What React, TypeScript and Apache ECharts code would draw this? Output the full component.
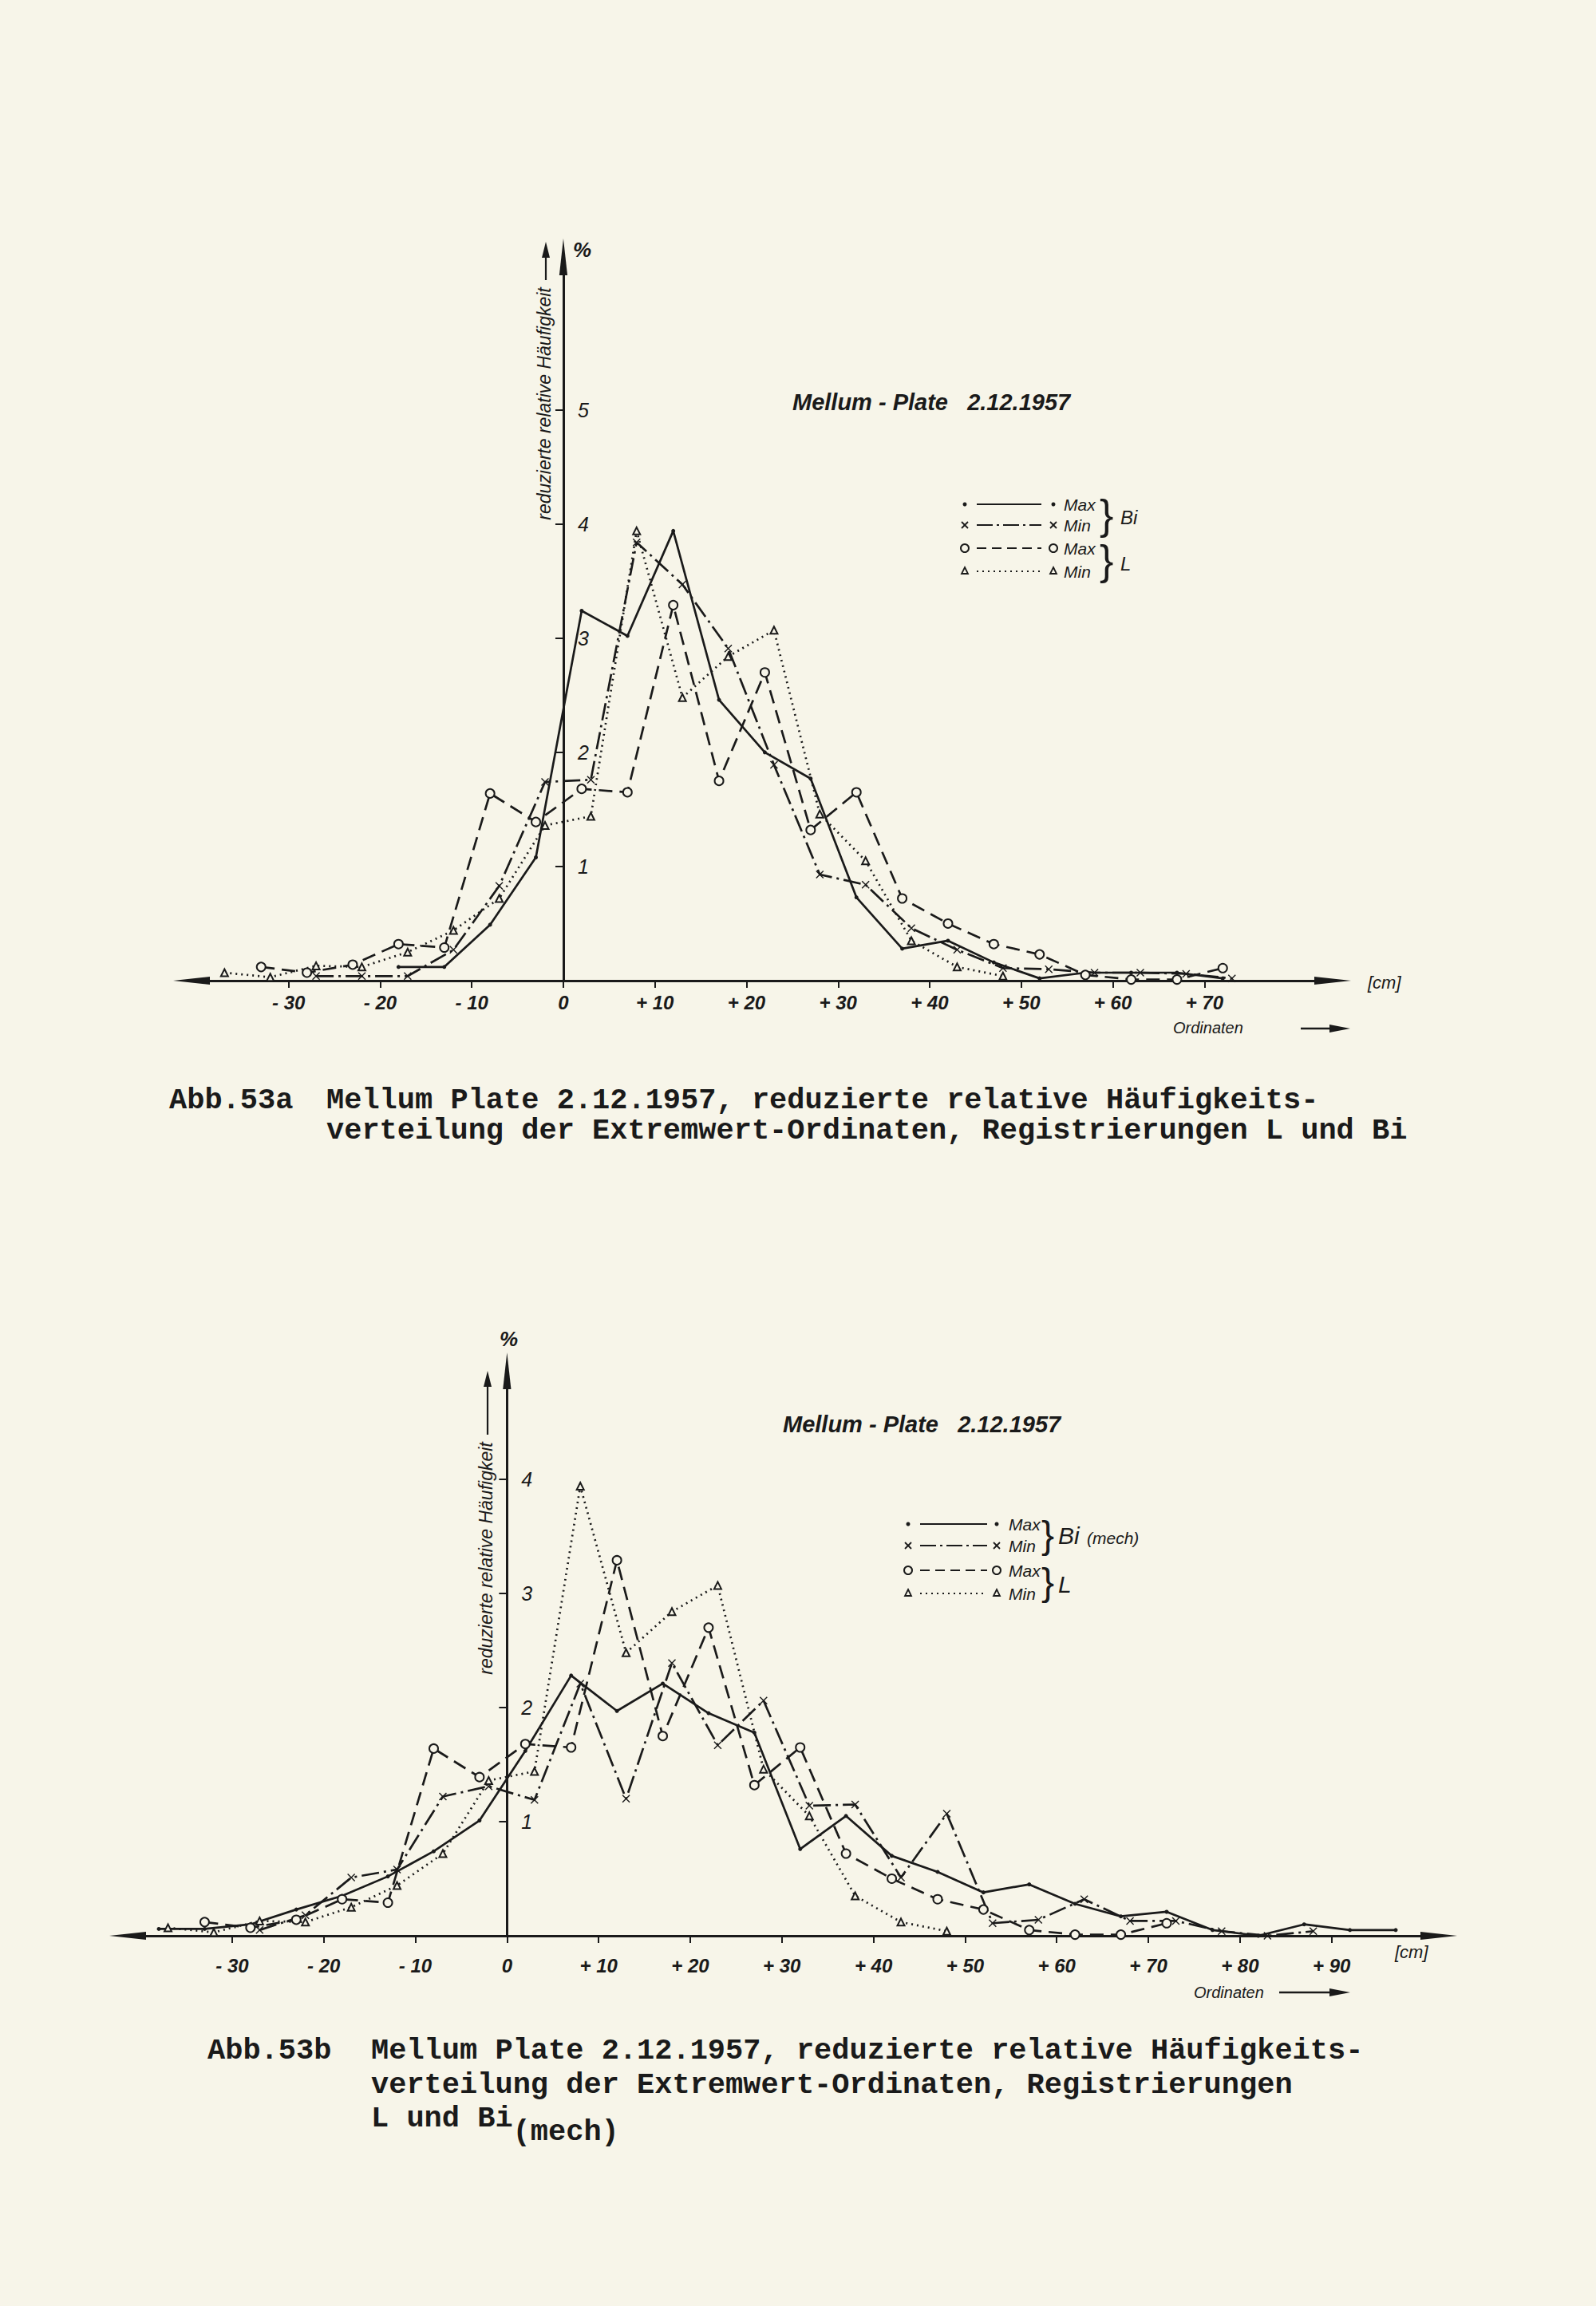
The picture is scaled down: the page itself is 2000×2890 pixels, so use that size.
import React, { useEffect, useRef } from "react";
import * as echarts from "echarts";

// ---------- data ----------
// Abb. 53a  (Bi / L)
const aBiMaxX = [-18, -13, -8, -3, 2, 7, 12, 17, 22, 27, 32, 37, 42, 47, 52, 57, 62, 67, 72];
const aBiMaxY = [0.12, 0.12, 0.49, 1.08, 3.24, 3.02, 3.94, 2.46, 2.0, 1.77, 0.73, 0.28, 0.35, 0.16, 0.02, 0.07, 0.07, 0.07, 0.02];
const aBiMinX = [-27, -22, -17, -12, -7, -2, 3, 8, 13, 18, 23, 28, 33, 38, 43, 48, 53, 58, 63, 68, 73];
const aBiMinY = [0.04, 0.04, 0.04, 0.27, 0.83, 1.74, 1.76, 3.84, 3.47, 2.91, 1.89, 0.93, 0.84, 0.46, 0.27, 0.11, 0.1, 0.07, 0.07, 0.06, 0.02];
// L recording (same in both figures)
const lMaxX = [-33, -28, -23, -18, -13, -8, -3, 2, 7, 12, 17, 22, 27, 32, 37, 42, 47, 52, 57, 62, 67, 72];
const lMaxY = [0.12, 0.07, 0.14, 0.32, 0.29, 1.64, 1.39, 1.68, 1.65, 3.29, 1.75, 2.7, 1.32, 1.65, 0.72, 0.5, 0.32, 0.23, 0.05, 0.01, 0.01, 0.11];
const lMinX = [-37, -32, -27, -22, -17, -12, -7, -2, 3, 8, 13, 18, 23, 28, 33, 38, 43, 48];
const lMinY = [0.07, 0.03, 0.13, 0.12, 0.25, 0.44, 0.72, 1.36, 1.44, 3.94, 2.48, 2.84, 3.07, 1.46, 1.05, 0.35, 0.12, 0.04];
// Abb. 53b  (Bi mech)
const bBiMaxX = [-38, -33, -28, -23, -18, -13, -8, -3, 2, 7, 12, 17, 22, 27, 32, 37, 42, 47, 52, 57, 62, 67, 72, 77, 82, 87, 92, 97];
const bBiMaxY = [0.06, 0.06, 0.1, 0.23, 0.35, 0.52, 0.74, 1.01, 1.62, 2.28, 1.97, 2.21, 1.95, 1.78, 0.76, 1.05, 0.7, 0.56, 0.38, 0.45, 0.28, 0.17, 0.21, 0.05, 0.0, 0.1, 0.05, 0.05];
const bBiMinX = [-27, -22, -17, -12, -7, -2, 3, 8, 13, 18, 23, 28, 33, 38, 43, 48, 53, 58, 63, 68, 73, 78, 83, 88];
const bBiMinY = [0.05, 0.18, 0.51, 0.58, 1.22, 1.31, 1.19, 2.21, 1.2, 2.39, 1.67, 2.06, 1.14, 1.15, 0.51, 1.07, 0.11, 0.14, 0.32, 0.13, 0.13, 0.04, 0.0, 0.04];

// tick values
const aXTicks = [-30, -20, -10, 0, 10, 20, 30, 40, 50, 60, 70];
const aYTicks = [1, 2, 3, 4, 5];
const bXTicks = [-30, -20, -10, 0, 10, 20, 30, 40, 50, 60, 70, 80, 90];
const bYTicks = [1, 2, 3, 4];

// texts
const titleText = "Mellum - Plate   2.12.1957";
const yName = "reduzierte relative Häufigkeit";
const capA = [
  "Mellum Plate 2.12.1957, reduzierte relative Häufigkeits-",
  "verteilung der Extremwert-Ordinaten, Registrierungen L und Bi",
];
const capB = [
  "Mellum Plate 2.12.1957, reduzierte relative Häufigkeits-",
  "verteilung der Extremwert-Ordinaten, Registrierungen",
  "L und Bi",
];

const BG = "#f7f5e9";
const INK = "#1a1a1a";
const SANS = "'Liberation Sans', Arial, sans-serif";
const MONO = "'Liberation Mono', 'DejaVu Sans Mono', monospace";
const X_PATH = "path://M0,1L1,0L5,4L9,0L10,1L6,5L10,9L9,10L5,6L1,10L0,9L4,5Z";
const ARROW = "path://M5,0L10,45L0,45Z";

// grid geometry (pixels)
const gridA = { left: 240, top: 322, width: 1430, height: 907 };
const gridB = { left: 160, top: 1718, width: 1643, height: 708 };
const rangeA = { xmin: -40.6, xmax: 84.0, ymax: 6.34 };
const rangeB = { xmin: -41.4, xmax: 101.7, ymax: 4.95 };

const zip = (xs: number[], ys: number[]) => xs.map((x, i) => [x, ys[i]]);
const fmt = (v: number) => (v < 0 ? "- " + -v : v > 0 ? "+ " + v : "0");

const styles = {
  biMax: { symbol: "circle", symbolSize: 5, line: "solid" as any, width: 2.7, fill: INK },
  biMin: { symbol: X_PATH, symbolSize: 10, line: [22, 6, 3, 6], width: 2.7, fill: INK },
  lMax: { symbol: "circle", symbolSize: 11, line: [17, 9], width: 2.7, fill: BG },
  lMin: { symbol: "triangle", symbolSize: 9, line: [2, 5], width: 2.7, fill: BG },
};

function series(name: string, xs: number[], ys: number[], st: any, idx: number) {
  return {
    type: "line",
    name,
    xAxisIndex: idx,
    yAxisIndex: idx,
    data: zip(xs, ys),
    symbol: st.symbol,
    symbolSize: st.symbolSize,
    showAllSymbol: true,
    lineStyle: { color: INK, width: st.width, type: st.line },
    itemStyle: {
      color: st.fill,
      borderColor: INK,
      borderWidth: st.fill === BG ? 2 : 0,
    },
    emphasis: { disabled: true },
    z: 3,
  };
}

function xAxis(idx: number, min: number, max: number, ticks: number[], margin: number) {
  return {
    type: "value",
    gridIndex: idx,
    min,
    max,
    axisLine: {
      show: true,
      onZero: true,
      symbol: [ARROW, ARROW],
      symbolSize: [15, 46],
      lineStyle: { color: INK, width: 3 },
    },
    axisTick: { show: true, customValues: ticks, length: 9, inside: false, lineStyle: { color: INK, width: 2 } },
    axisLabel: {
      customValues: ticks,
      formatter: (v: number) => fmt(v),
      color: INK,
      fontFamily: SANS,
      fontStyle: "italic",
      fontWeight: "bold",
      fontSize: 24,
      margin,
    },
    splitLine: { show: false },
  };
}

function yAxis(idx: number, max: number, ticks: number[], grid: any, range: any) {
  const zeroOffset = (grid.width * (0 - range.xmin)) / (range.xmax - range.xmin);
  return {
    type: "value",
    gridIndex: idx,
    position: "left",
    offset: -zeroOffset,
    min: 0,
    max,
    axisLine: {
      show: true,
      onZero: false,
      symbol: ["none", ARROW],
      symbolSize: [15, 46],
      lineStyle: { color: INK, width: 3 },
    },
    axisTick: { show: true, customValues: ticks, length: 10, inside: false, lineStyle: { color: INK, width: 2 } },
    axisLabel: {
      customValues: ticks,
      inside: true,
      margin: 18,
      color: INK,
      fontFamily: SANS,
      fontStyle: "italic",
      fontSize: 25,
    },
    splitLine: { show: false },
  };
}

function txt(x: number, y: number, text: string, size: number, extra: any = {}) {
  return {
    type: "text",
    x,
    y,
    silent: true,
    style: {
      text,
      fill: INK,
      fontFamily: SANS,
      fontStyle: "italic",
      fontSize: size,
      textAlign: "left",
      textVerticalAlign: "middle",
      ...extra,
    },
  };
}

function line(x1: number, y1: number, x2: number, y2: number, w: number, dash?: number[]) {
  return {
    type: "line",
    silent: true,
    shape: { x1, y1, x2, y2 },
    style: { stroke: INK, lineWidth: w, lineDash: dash || null },
  };
}

function marker(kind: string, cx: number, cy: number) {
  if (kind === "dot") return { type: "circle", silent: true, shape: { cx, cy, r: 2.5 }, style: { fill: INK } };
  if (kind === "o")
    return { type: "circle", silent: true, shape: { cx, cy, r: 5 }, style: { fill: BG, stroke: INK, lineWidth: 2 } };
  if (kind === "tri")
    return {
      type: "polygon",
      silent: true,
      shape: { points: [[cx, cy - 5], [cx + 4, cy + 3], [cx - 4, cy + 3]] },
      style: { fill: BG, stroke: INK, lineWidth: 1.8 },
    };
  return {
    type: "group",
    silent: true,
    children: [line(cx - 4, cy - 4, cx + 4, cy + 4, 1.8), line(cx - 4, cy + 4, cx + 4, cy - 4, 1.8)],
  };
}

function legend(rows: number[], mL: number, l1: number, l2: number, mR: number, tx: number, size: number) {
  const kinds = ["dot", "x", "o", "tri"];
  const dashes: any[] = [null, [20, 5, 3, 5], [12, 7], [2, 5]];
  const labels = ["Max", "Min", "Max", "Min"];
  const out: any[] = [];
  rows.forEach((y, i) => {
    out.push(marker(kinds[i], mL, y));
    out.push(line(l1, y, l2, y, 2.2, dashes[i]));
    out.push(marker(kinds[i], mR, y));
    out.push(txt(tx, y, labels[i], size));
  });
  return out;
}

function vArrow(x: number, tip: number, len: number) {
  return [
    line(x, tip + 18, x, tip + len, 2.2),
    {
      type: "polygon",
      silent: true,
      shape: { points: [[x, tip], [x + 5, tip + 20], [x - 5, tip + 20]] },
      style: { fill: INK },
    },
  ];
}

function hArrow(x1: number, x2: number, y: number) {
  return [
    line(x1, y, x2 - 18, y, 2.5),
    {
      type: "polygon",
      silent: true,
      shape: { points: [[x2, y], [x2 - 26, y - 5], [x2 - 26, y + 5]] },
      style: { fill: INK },
    },
  ];
}

function capText(x: number, y: number, text: string) {
  return {
    type: "text",
    x,
    y,
    silent: true,
    style: {
      text,
      fill: INK,
      fontFamily: MONO,
      fontWeight: "bold",
      fontSize: 37,
      textAlign: "left",
      textVerticalAlign: "middle",
    },
  };
}

function yLabel(x: number, y: number) {
  return {
    type: "text",
    x,
    y,
    rotation: Math.PI / 2,
    silent: true,
    style: {
      text: yName,
      fill: INK,
      fontFamily: SANS,
      fontStyle: "italic",
      fontSize: 23,
      textAlign: "center",
      textVerticalAlign: "middle",
    },
  };
}

export default function App() {
  const ref = useRef<HTMLDivElement>(null);
  useEffect(() => {
    document.body.style.margin = "0";
    document.body.style.background = BG;
    const chart = echarts.init(ref.current!, null, { renderer: "svg" });
    const graphic: any[] = [
      // chart a
      txt(993, 504, titleText, 29, { fontWeight: "bold" }),
      txt(718, 313, "%", 26, { fontWeight: "bold" }),
      yLabel(682, 506),
      ...vArrow(684, 303, 48),
      ...legend([632, 658, 687, 716], 1209, 1224, 1305, 1320, 1333, 21),
      txt(1378, 645, "}", 52, { fontStyle: "normal" }),
      txt(1378, 702, "}", 52, { fontStyle: "normal" }),
      txt(1404, 648, "Bi", 24),
      txt(1404, 706, "L", 24),
      txt(1714, 1231, "[cm]", 22),
      txt(1470, 1288, "Ordinaten", 20),
      ...hArrow(1630, 1692, 1289),
      // caption a
      capText(212, 1379, "Abb.53a"),
      capText(409, 1379, capA[0]),
      capText(409, 1417, capA[1]),

      // chart b
      txt(981, 1785, titleText, 29, { fontWeight: "bold" }),
      txt(626, 1678, "%", 26, { fontWeight: "bold" }),
      yLabel(609, 1953),
      ...vArrow(611, 1718, 80),
      ...legend([1910, 1937, 1968, 1997], 1138, 1153, 1237, 1249, 1264, 21),
      txt(1305, 1923, "}", 48, { fontStyle: "normal" }),
      txt(1305, 1982, "}", 48, { fontStyle: "normal" }),
      txt(1326, 1924, "Bi", 30),
      txt(1362, 1927, "(mech)", 21),
      txt(1326, 1985, "L", 30),
      txt(1748, 2446, "[cm]", 22),
      txt(1496, 2497, "Ordinaten", 20),
      ...hArrow(1603, 1692, 2497),
      // caption b
      capText(260, 2570, "Abb.53b"),
      capText(465, 2570, capB[0]),
      capText(465, 2613, capB[1]),
      capText(465, 2655, capB[2]),
      {
        type: "text",
        x: 465 + 8 * 22.2,
        y: 2672,
        silent: true,
        style: {
          text: "(mech)",
          fill: INK,
          fontFamily: MONO,
          fontWeight: "bold",
          fontSize: 37,
          textAlign: "left",
          textVerticalAlign: "middle",
        },
      },
    ];

    chart.setOption({
      animation: false,
      backgroundColor: BG,
      grid: [gridA, gridB],
      xAxis: [
        xAxis(0, rangeA.xmin, rangeA.xmax, aXTicks, 15),
        xAxis(1, rangeB.xmin, rangeB.xmax, bXTicks, 25),
      ],
      yAxis: [yAxis(0, rangeA.ymax, aYTicks, gridA, rangeA), yAxis(1, rangeB.ymax, bYTicks, gridB, rangeB)],
      series: [
        series("Bi Max", aBiMaxX, aBiMaxY, styles.biMax, 0),
        series("Bi Min", aBiMinX, aBiMinY, styles.biMin, 0),
        series("L Max", lMaxX, lMaxY, styles.lMax, 0),
        series("L Min", lMinX, lMinY, styles.lMin, 0),
        series("Bi (mech) Max", bBiMaxX, bBiMaxY, styles.biMax, 1),
        series("Bi (mech) Min", bBiMinX, bBiMinY, styles.biMin, 1),
        series("L Max ", lMaxX, lMaxY, styles.lMax, 1),
        series("L Min ", lMinX, lMinY, styles.lMin, 1),
      ],
      graphic,
    });
    return () => chart.dispose();
  }, []);
  return <div ref={ref} style={{ width: 2000, height: 2890, background: BG }} />;
}
